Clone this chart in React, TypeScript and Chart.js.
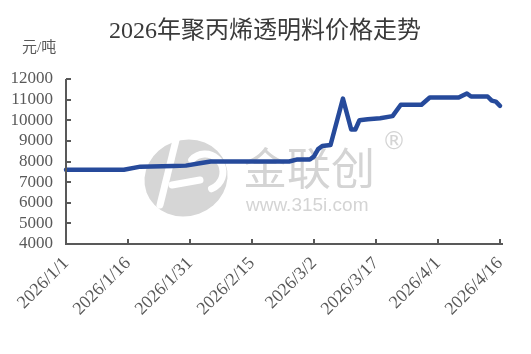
import { useEffect, useRef } from "react";
import { Chart, registerables } from "chart.js";

Chart.register(...registerables);

const chartTitle = "2026年聚丙烯透明料价格走势";
const unitLabel = "元/吨";
const xTickLabels = [
  "2026/1/1",
  "2026/1/16",
  "2026/1/31",
  "2026/2/15",
  "2026/3/2",
  "2026/3/17",
  "2026/4/1",
  "2026/4/16",
];
const pointDates = [
  "2026/1/1", "2026/1/15", "2026/1/19", "2026/1/27", "2026/1/30", "2026/2/2",
  "2026/2/5", "2026/2/24", "2026/2/26", "2026/3/1", "2026/3/2", "2026/3/3",
  "2026/3/4", "2026/3/6", "2026/3/9", "2026/3/11", "2026/3/12", "2026/3/13",
  "2026/3/15", "2026/3/18", "2026/3/21", "2026/3/23", "2026/3/28", "2026/3/30",
  "2026/4/6", "2026/4/8", "2026/4/9", "2026/4/13", "2026/4/14", "2026/4/15",
  "2026/4/16",
];
const prices = [
  7600, 7600, 7750, 7780, 7800, 7900,
  8000, 8000, 8100, 8100, 8250, 8600,
  8750, 8800, 11050, 9550, 9550, 10000,
  10050, 10100, 10200, 10750, 10750, 11100,
  11100, 11300, 11150, 11150, 10950, 10900,
  10700,
];
const yMin = 4000;
const yMax = 12000;
const yStep = 1000;
const xStepDays = 15;
const watermarkName = "金联创";
const watermarkSite = "www.315i.com";

function dayIndex(s: string): number {
  const [y, m, d] = s.split("/").map(Number);
  return Math.round((Date.UTC(y, m - 1, d) - Date.UTC(2026, 0, 1)) / 86400000);
}

const AXIS_COLOR = "#595959";
const TEXT_COLOR = "#595959";
const SERIF = '"Liberation Serif", "Noto Sans CJK SC", serif';

const decorPlugin = {
  id: "decor",
  beforeDatasetsDraw(chart: any) {
    const ctx = chart.ctx as CanvasRenderingContext2D;
    ctx.save();
    // logo
    ctx.fillStyle = "#d6d6d6";
    ctx.beginPath();
    ctx.ellipse(186, 178, 42, 38, -0.35, 0, Math.PI * 2);
    ctx.fill();
    ctx.strokeStyle = "#ffffff";
    ctx.lineWidth = 7;
    ctx.lineCap = "round";
    ctx.beginPath();
    ctx.moveTo(176, 140);
    ctx.lineTo(160, 205);
    ctx.stroke();
    ctx.beginPath();
    ctx.moveTo(172, 185);
    ctx.lineTo(200, 180);
    ctx.stroke();
    ctx.beginPath();
    ctx.arc(205, 172, 18, -2.4, 1.2);
    ctx.stroke();
    // text
    ctx.fillStyle = "#d4d4d4";
    ctx.textBaseline = "middle";
    ctx.textAlign = "left";
    ctx.font = '44px "Noto Sans CJK SC"';
    ctx.fillText(watermarkName, 243, 168);
    ctx.font = '24px "DejaVu Sans"';
    ctx.fillText("®", 382, 143);
    ctx.font = '19px "Liberation Sans"';
    ctx.fillText(watermarkSite, 246, 206);
    ctx.restore();
  },
  afterDraw(chart: any) {
    const ctx = chart.ctx as CanvasRenderingContext2D;
    const { left, right, top, bottom } = chart.chartArea;
    const xs = chart.scales.x;
    const ys = chart.scales.y;
    ctx.save();
    ctx.strokeStyle = AXIS_COLOR;
    ctx.lineWidth = 2;
    ctx.beginPath();
    ctx.moveTo(left, top);
    ctx.lineTo(left, bottom);
    ctx.lineTo(right + 3, bottom);
    ctx.stroke();
    ctx.beginPath();
    ys.ticks.forEach((t: any) => {
      const y = Math.round(ys.getPixelForValue(t.value));
      ctx.moveTo(left, y);
      ctx.lineTo(left + 5, y);
    });
    xs.ticks.forEach((t: any) => {
      const x = Math.round(xs.getPixelForValue(t.value));
      ctx.moveTo(x, bottom);
      ctx.lineTo(x, bottom - 5);
    });
    ctx.stroke();
    // title
    ctx.fillStyle = "#3a3a3a";
    ctx.textAlign = "center";
    ctx.textBaseline = "middle";
    ctx.font = '24px ' + SERIF;
    ctx.fillText(chartTitle, 265, 32);
    ctx.fillStyle = TEXT_COLOR;
    ctx.textAlign = "left";
    ctx.font = '15px ' + SERIF;
    ctx.fillText(unitLabel, 22, 48);
    ctx.restore();
  },
};

export default function App() {
  const canvasRef = useRef<HTMLCanvasElement | null>(null);

  useEffect(() => {
    if (!canvasRef.current) return;
    const data = pointDates.map((d, i) => ({ x: dayIndex(d), y: prices[i] }));
    const lastDay = dayIndex(xTickLabels[xTickLabels.length - 1]);
    const chart = new Chart(canvasRef.current, {
      type: "line",
      data: {
        datasets: [
          {
            label: "价格",
            data,
            borderColor: "#264a9b",
            backgroundColor: "#264a9b",
            borderWidth: 4.5,
            borderCapStyle: "round",
            borderJoinStyle: "round",
            pointRadius: 0,
            tension: 0,
            clip: false as any,
          },
        ],
      },
      plugins: [decorPlugin],
      options: {
        animation: false,
        responsive: true,
        maintainAspectRatio: false,
        layout: { padding: { top: 79, right: 31, left: 0, bottom: 0 } },
        plugins: {
          legend: { display: false },
          title: { display: false },
          tooltip: { enabled: false },
        },
        scales: {
          x: {
            type: "linear",
            min: 0,
            max: lastDay,
            grid: { display: false, drawTicks: false },
            border: { display: false },
            afterFit(scale: any) {
              scale.height = 110;
            },
            afterBuildTicks(scale: any) {
              scale.ticks = xTickLabels.map((l) => ({ value: dayIndex(l) }));
            },
            ticks: {
              autoSkip: false,
              minRotation: 45,
              maxRotation: 45,
              padding: 9,
              color: TEXT_COLOR,
              font: { family: SERIF, size: 18 },
              callback: (v: any) => {
                const idx = Math.round(Number(v) / xStepDays);
                return xTickLabels[idx] ?? "";
              },
            },
          },
          y: {
            min: yMin,
            max: yMax,
            grid: { display: false, drawTicks: false },
            border: { display: false },
            afterFit(scale: any) {
              scale.width = 66;
            },
            afterBuildTicks(scale: any) {
              const ticks = [];
              for (let v = yMin; v <= yMax; v += yStep) ticks.push({ value: v });
              scale.ticks = ticks;
            },
            ticks: {
              autoSkip: false,
              stepSize: yStep,
              padding: 13,
              color: TEXT_COLOR,
              font: { family: SERIF, size: 17 },
              callback: (v: any) => String(v),
            },
          },
        },
      },
    });
    return () => chart.destroy();
  }, []);

  return (
    <div style={{ position: "fixed", left: 0, top: 0, width: 531, height: 354, background: "#fff" }}>
      <canvas ref={canvasRef} />
    </div>
  );
}
